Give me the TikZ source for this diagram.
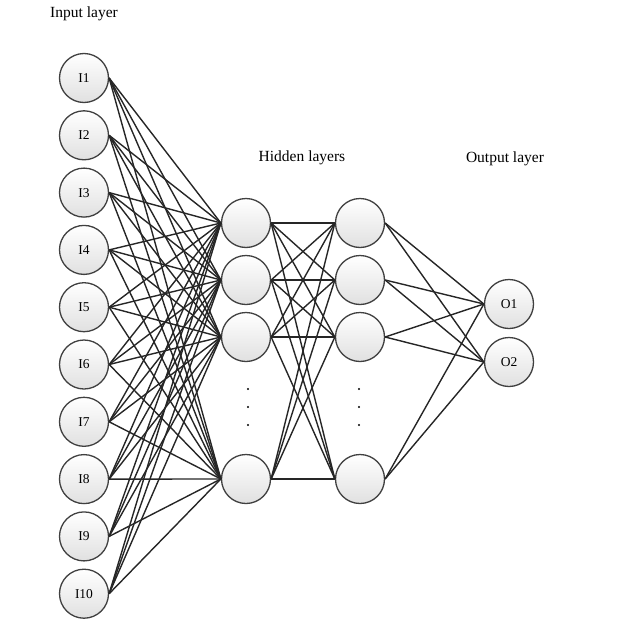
\documentclass[tikz,border=0pt]{standalone}
\usepackage{fontspec}
\setmainfont{Liberation Serif}
\begin{document}
\begin{tikzpicture}[x=1pt,y=-1pt,
  neuron/.style={circle,draw=black!75,line width=1.3pt,minimum size=49pt,inner sep=0pt,
    top color=white,bottom color=black!12,font=\fontsize{13.5}{15}\selectfont},
  conn/.style={draw=black!85,line width=1.4pt},
  layerlabel/.style={font=\fontsize{15.5}{18}\selectfont},
  vdot/.style={circle,fill=black,inner sep=0pt,minimum size=2.4pt}]
\useasboundingbox (0,0) rectangle (623,640);
% input layer
\foreach \i [evaluate=\i as \yy using {78+(\i-1)*57.3}] in {1,...,10}
  \node[neuron] (I\i) at (84,\yy) {I\i};
% hidden layers
\node[neuron] (A1) at (246,223) {};
\node[neuron] (A2) at (246,280) {};
\node[neuron] (A3) at (246,337) {};
\node[neuron] (A4) at (246,479) {};
\node[neuron] (B1) at (360,223) {};
\node[neuron] (B2) at (360,280) {};
\node[neuron] (B3) at (360,337) {};
\node[neuron] (B4) at (360,479) {};
% output layer
\node[neuron] (O1) at (509,304) {O1};
\node[neuron] (O2) at (509,362) {O2};
% dots
\node[vdot] (da1) at (248,389) {};
\node[vdot] (da2) at (248,407) {};
\node[vdot] (da3) at (248,425) {};
\node[vdot] (db1) at (359,389) {};
\node[vdot] (db2) at (359,407) {};
\node[vdot] (db3) at (359,425) {};
% labels
\node[layerlabel] (Lin) at (84,14) {Input layer};
\node[layerlabel] (Lhid) at (302,158) {Hidden layers};
\node[layerlabel] (Lout) at (505,159) {Output layer};
% connections
\foreach \i in {1,...,10}
  \foreach \j in {1,...,4}
    \draw[conn] (I\i.east) -- (A\j.west);
\foreach \i in {1,...,4}
  \foreach \j in {1,...,4}
    \draw[conn] (A\i.east) -- (B\j.west);
\foreach \i in {1,...,4}
  \foreach \j in {1,2}
    \draw[conn] (B\i.east) -- (O\j.west);
\end{tikzpicture}
\end{document}
